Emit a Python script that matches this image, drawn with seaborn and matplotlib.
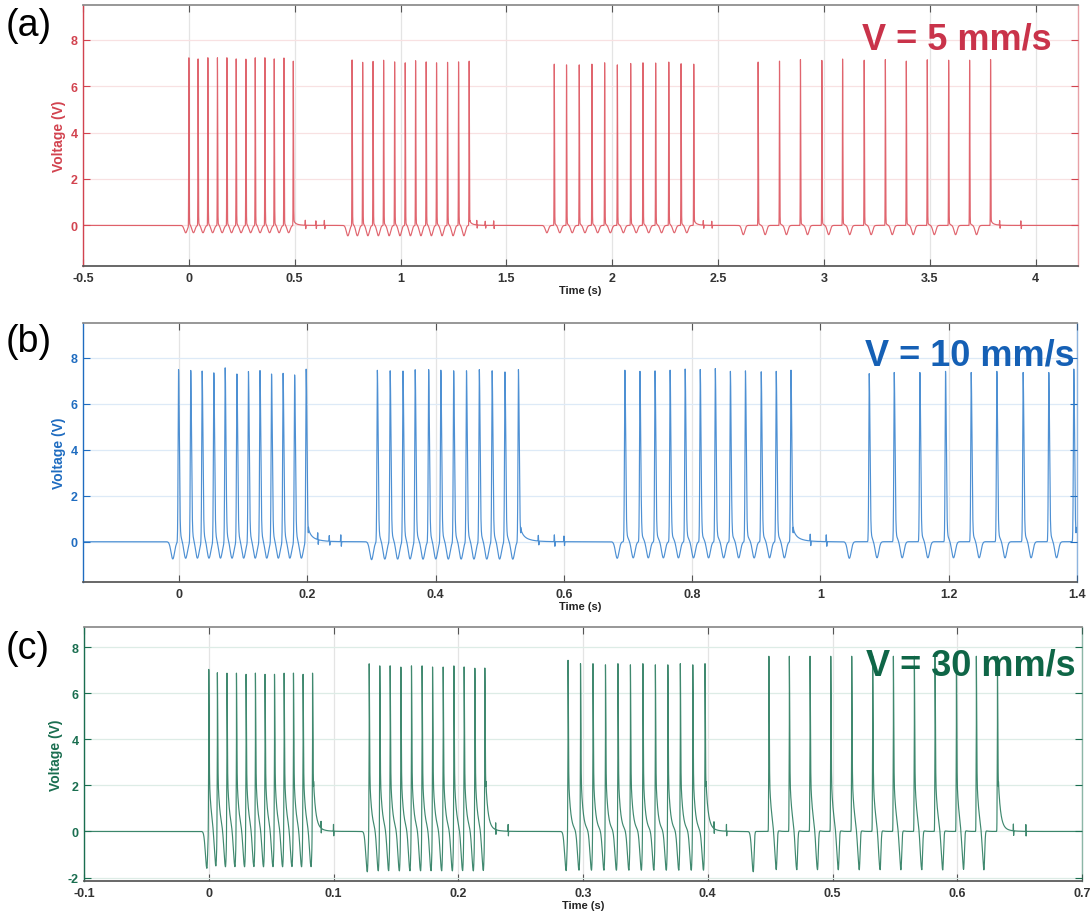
import numpy as np
import pandas as pd
import matplotlib
matplotlib.use("Agg")
import matplotlib.pyplot as plt
import seaborn as sns

# ---------------- data ----------------
# (a) V = 5 mm/s : spike times (s) and peak voltages (V), 4 bursts of 12
a_spike_t = [0.000, 0.0435, 0.0898, 0.135, 0.1797, 0.2236, 0.2695, 0.3135, 0.3593, 0.4033, 0.4492, 0.4933,
             0.771, 0.821, 0.870, 0.920, 0.972, 1.022, 1.071, 1.121, 1.170, 1.222, 1.274, 1.324,
             1.726, 1.784, 1.844, 1.904, 1.964, 2.024, 2.087, 2.145, 2.205, 2.267, 2.325, 2.385,
             2.689, 2.790, 2.889, 2.990, 3.088, 3.190, 3.290, 3.389, 3.488, 3.589, 3.688, 3.787]
a_spike_v = [7.26, 7.18, 7.23, 7.23, 7.23, 7.18, 7.17, 7.23, 7.23, 7.18, 7.22, 7.08,
             7.14, 7.03, 7.07, 7.12, 7.05, 7.01, 7.10, 7.05, 7.01, 7.03, 7.05, 7.08,
             6.95, 6.92, 6.92, 6.95, 7.01, 6.92, 6.98, 7.01, 7.00, 7.04, 6.97, 6.95,
             7.04, 7.08, 7.15, 7.11, 7.17, 7.12, 7.15, 7.08, 7.14, 7.12, 7.12, 7.15]
a_burst = [1] * 12 + [2] * 12 + [3] * 12 + [4] * 12
a_dip_v = [-0.32, -0.45, -0.32, -0.40]          # depth of the dip between spikes, per burst
a_twitch_t = [0.55, 0.60, 0.64, 1.36, 1.40, 1.44, 2.43, 2.47, 3.83, 3.93]
a_twitch_v = [0.22, 0.2, 0.22, 0.2, 0.18, 0.2, 0.2, 0.18, 0.2, 0.2]

# (b) V = 10 mm/s
b_spike_t = [-0.001, 0.018, 0.0358, 0.054, 0.0717, 0.090, 0.108, 0.126, 0.144, 0.162, 0.180, 0.198,
             0.309, 0.329, 0.349, 0.368, 0.389, 0.408, 0.428, 0.448, 0.468, 0.488, 0.508, 0.529,
             0.695, 0.7185, 0.742, 0.7655, 0.789, 0.8125, 0.836, 0.8595, 0.883, 0.9076, 0.931, 0.954,
             1.076, 1.115, 1.155, 1.195, 1.235, 1.275, 1.316, 1.356, 1.395]
b_spike_v = [7.48, 7.45, 7.43, 7.35, 7.57, 7.30, 7.41, 7.45, 7.30, 7.33, 7.26, 7.51,
             7.45, 7.43, 7.42, 7.48, 7.48, 7.46, 7.43, 7.43, 7.48, 7.43, 7.38, 7.48,
             7.45, 7.40, 7.42, 7.45, 7.50, 7.48, 7.52, 7.40, 7.42, 7.38, 7.40, 7.45,
             7.30, 7.35, 7.35, 7.40, 7.35, 7.40, 7.35, 7.35, 7.50]
b_burst = [1] * 12 + [2] * 12 + [3] * 12 + [4] * 9
b_dip_v = [-0.75, -0.78, -0.72, -0.72]
b_twitch_t = [0.216, 0.234, 0.252, 0.56, 0.585, 0.60, 0.984, 1.009]
b_twitch_v = [0.3, 0.25, 0.3, 0.25, 0.3, 0.25, 0.3, 0.3]

# (c) V = 30 mm/s
c_spike_t = [0.0, 0.0069, 0.0146, 0.0222, 0.0299, 0.0374, 0.0451, 0.0527, 0.0604, 0.0679, 0.0756, 0.0832,
             0.1286, 0.1371, 0.1454, 0.154, 0.1625, 0.171, 0.1794, 0.1879, 0.1965, 0.2047, 0.2133, 0.2213,
             0.288, 0.298, 0.308, 0.318, 0.328, 0.338, 0.348, 0.358, 0.368, 0.378, 0.388, 0.3978,
             0.449, 0.4654, 0.482, 0.4986, 0.5154, 0.5322, 0.5488, 0.5656, 0.5822, 0.5993, 0.6153, 0.6322]
c_spike_v = [7.1, 7.05, 7.05, 7.05, 7.0, 7.05, 7.0, 7.0, 7.05, 7.05, 7.0, 7.05,
             7.35, 7.4, 7.4, 7.35, 7.4, 7.4, 7.35, 7.35, 7.4, 7.35, 7.3, 7.3,
             7.5, 7.5, 7.5, 7.45, 7.5, 7.45, 7.5, 7.45, 7.45, 7.5, 7.45, 7.5,
             7.6, 7.6, 7.6, 7.6, 7.6, 7.6, 7.6, 7.6, 7.6, 7.6, 7.6, 7.6]
c_burst = [1] * 12 + [2] * 12 + [3] * 12 + [4] * 12
c_dip_v = [-1.6, -1.75, -1.7, -1.75]
c_twitch_t = [0.09, 0.10, 0.23, 0.24, 0.405, 0.415, 0.645, 0.655]
c_twitch_v = [0.3, 0.3, 0.3, 0.3, 0.3, 0.3, 0.3, 0.3]

titles = ["V = 5 mm/s", "V = 10 mm/s", "V = 30 mm/s"]
letters = ["(a)", "(b)", "(c)"]
xlims = [(-0.5, 4.2), (-0.15, 1.4), (-0.1, 0.7)]
ylims = [(-1.75, 9.5), (-1.75, 9.5), (-2.15, 8.87)]
xticks = [[-0.5, 0, 0.5, 1, 1.5, 2, 2.5, 3, 3.5, 4],
          [0, 0.2, 0.4, 0.6, 0.8, 1, 1.2, 1.4],
          [-0.1, 0, 0.1, 0.2, 0.3, 0.4, 0.5, 0.6, 0.7]]
yticks = [[0, 2, 4, 6, 8], [0, 2, 4, 6, 8], [-2, 0, 2, 4, 6, 8]]

# ---------------- waveform assembly ----------------
def apulse(t, c, wl, wr):
    w = np.where(t < c, wl, wr)
    return np.exp(-0.5 * ((t - c) / w) ** 2)


def tail(t, c, tau):
    d = t - c
    return np.where(d >= 0, np.exp(-np.clip(d, 0, None) / tau), 0.0)


def synth(lim, dt, st, sv, burst, dipv, tw_t, tw_v, p):
    t = np.arange(lim[0], lim[1] + dt / 2, dt)
    t = np.union1d(t, np.array(st))
    v = np.zeros_like(t)
    st = np.array(st)
    sv = np.array(sv)
    burst = np.array(burst)
    for g in np.unique(burst):
        ts = st[burst == g]
        vs = sv[burst == g]
        depth = dipv[g - 1]
        v += depth * apulse(t, ts[0] - p["pre"][g - 1], p["dl"], p["dr"])
        for i in range(len(ts)):
            v += (vs[i] - p["tail_a"]) * apulse(t, ts[i], p["sl"], p["sr"])
            v += p["tail_a"] * tail(t, ts[i], p["tau"])
            if i < len(ts) - 1:
                gap = ts[i + 1] - ts[i]
                lag = p["lag"][g - 1]
                tc = ts[i] + (lag * gap if lag < 1 else gap - (lag - 1))
                v += depth * apulse(t, tc, p["dl"], p["dr"])
        v += p["after"] * tail(t, ts[-1] + p["sr"] * 3, p["after_tau"])
    for a, b in zip(tw_t, tw_v):
        v += b * apulse(t, a, dt * 1.5, dt * 1.5) - b * 0.7 * apulse(t, a + dt * 4, dt * 1.5, dt * 1.5)
    return t, v


pa = dict(sl=0.0008, sr=0.0012, tail_a=0.15, tau=0.006, dl=0.007, dr=0.007,
          lag=[0.5, 0.5, 0.45, 0.33], pre=[0.015, 0.02, 0.035, 0.07], after=0.1, after_tau=0.02)
pb = dict(sl=0.0007, sr=0.0012, tail_a=0.7, tau=0.0035, dl=0.0028, dr=0.0028,
          lag=[0.58, 0.58, 0.55, 0.31], pre=[0.009, 0.009, 0.012, 0.031], after=0.3, after_tau=0.012)
pc = dict(sl=0.00018, sr=0.00028, tail_a=3.0, tau=0.0017, dl=0.0012, dr=0.0006,
          lag=[1.0012, 1.0012, 1.0012, 0.36], pre=[0.0015, 0.0015, 0.0015, 0.0125], after=0.3, after_tau=0.005)

traces = [
    synth(xlims[0], 0.0005, a_spike_t, a_spike_v, a_burst, a_dip_v, a_twitch_t, a_twitch_v, pa),
    synth(xlims[1], 0.0002, b_spike_t, b_spike_v, b_burst, b_dip_v, b_twitch_t, b_twitch_v, pb),
    synth(xlims[2], 0.00005, c_spike_t, c_spike_v, c_burst, c_dip_v, c_twitch_t, c_twitch_v, pc),
]

line_colors = ["#DB4A55", "#2F7DCC", "#1E7456"]
text_colors = ["#C9334A", "#1560B5", "#0F6647"]
label_colors = ["#D2434F", "#1F6CC0", "#1A6E50"]
ygrid_colors = ["#F8E1E2", "#DDEAF7", "#DDECE6"]

# ---------------- figure ----------------
sns.set_theme(style="white")
plt.rcParams["font.family"] = ["Liberation Sans", "DejaVu Sans"]

fig = plt.figure(figsize=(10.91, 9.20), dpi=100)
W, H = 1091.0, 920.0
boxes = [(83, 6, 1078, 267), (83, 324, 1077, 583), (84, 628, 1082, 882)]
title_pos = [(1052, 22), (1075, 338), (1076, 649)]
letter_pos = [(6, 8), (6, 324), (6, 631)]

for k in range(3):
    l, tp, r, b = boxes[k]
    ax = fig.add_axes([l / W, 1 - b / H, (r - l) / W, (b - tp) / H])
    t, v = traces[k]
    df = pd.DataFrame({"Time (s)": t, "Voltage (V)": v})
    sns.lineplot(data=df, x="Time (s)", y="Voltage (V)", ax=ax, color=line_colors[k],
                 linewidth=0.85, alpha=0.85, estimator=None, sort=False)
    ax.set_xlim(*xlims[k])
    ax.set_ylim(*ylims[k])
    ax.set_xticks(xticks[k])
    ax.set_xticklabels([f"{x:g}" for x in xticks[k]], fontweight="bold", fontsize=9)
    ax.set_yticks(yticks[k])
    ax.set_yticklabels([f"{y:g}" for y in yticks[k]], fontweight="bold", fontsize=9)
    ax.xaxis.grid(True, color="#E4E4E4", linewidth=0.9)
    ax.yaxis.grid(True, color=ygrid_colors[k], linewidth=0.9)
    ax.set_axisbelow(True)
    ax.tick_params(axis="x", direction="in", length=5, width=0.8, top=True, bottom=True,
                   color="#555555", labelcolor="#333333", pad=4)
    ax.tick_params(axis="y", direction="in", length=5, width=0.8, left=True, right=True,
                   color=label_colors[k], labelcolor=label_colors[k], pad=4)
    ax.set_xlabel("Time (s)", fontsize=8, fontweight="bold", color="#222222", labelpad=1)
    ax.set_ylabel("Voltage (V)", fontsize=10, fontweight="bold", color=label_colors[k], labelpad=3)
    for s in ["left", "right"]:
        ax.spines[s].set_color(label_colors[k])
        ax.spines[s].set_linewidth(1.0)
    ax.spines["right"].set_alpha(0.5)
    ax.spines["top"].set_color("#8A8A8A")
    ax.spines["bottom"].set_color("#555555")
    for s in ax.spines.values():
        s.set_visible(True)

    fx, fy = title_pos[k]
    fig.text(fx / W, 1 - fy / H, titles[k], ha="right", va="top", fontsize=26,
             fontweight="bold", color=text_colors[k])
    lx, ly = letter_pos[k]
    fig.text(lx / W, 1 - ly / H, letters[k], ha="left", va="top", fontsize=27, color="black")

fig.savefig("out.png", dpi=100)
